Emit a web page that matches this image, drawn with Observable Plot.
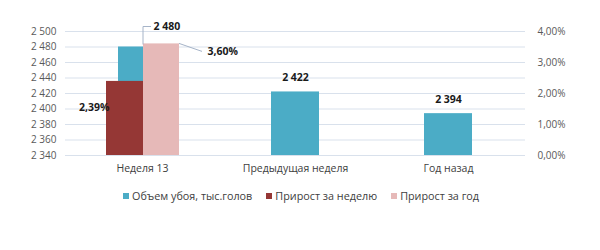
<!DOCTYPE html>
<html><head><meta charset="utf-8">
<script src="https://cdn.jsdelivr.net/npm/d3@7"></script>
<script src="https://cdn.jsdelivr.net/npm/@observablehq/plot@0.6"></script>
<style>
body{margin:0;background:#fff;font-family:"Open Sans",sans-serif;}
#chart{width:600px;height:250px;}
.legend{display:flex;justify-content:center;gap:14px;font-size:10.8px;color:#404040;margin-top:8px;margin-left:2px;}
.legend .sw{display:inline-block;width:6px;height:6px;margin-right:3px;vertical-align:1px;}
</style></head><body><div id="chart"></div>
<script>
const categories = ["Неделя 13", "Предыдущая неделя", "Год назад"];
const slaughter = [2480, 2422, 2394];      // тыс. голов (left axis)
const weekGrowth = [2.39, null, null];     // % (right axis)
const yearGrowth = [3.60, null, null];     // % (right axis)
const leftTicks = [2340, 2360, 2380, 2400, 2420, 2440, 2460, 2480, 2500];
const pctTicks = [0, 1, 2, 3, 4];
const seriesNames = ["Объем убоя, тыс.голов", "Прирост за неделю", "Прирост за год"];
const seriesColors = ["#4bacc6", "#953735", "#e6b9b8"];

const yMin = leftTicks[0], yMax = leftTicks[leftTicks.length - 1];
const k = (yMax - yMin) / pctTicks[pctTicks.length - 1];
const toY = p => yMin + p * k;

const loc = d3.formatLocale({decimal: ",", thousands: " ", grouping: [3], currency: ["", ""]});
const numFmt = loc.format(",d");
const pctFmt = p => loc.format(".2f")(p) + "%";

const table = categories.map((c, i) => ({cat: c, vol: slaughter[i], wk: weekGrowth[i], yr: yearGrowth[i]}));
const first = table.slice(0, 1);
const rest = table.slice(1);
const wkRows = table.filter(d => d.wk != null);
const yrRows = table.filter(d => d.yr != null);

const plot = Plot.plot({
  width: 600, height: 180,
  marginTop: 31, marginBottom: 25, marginLeft: 65, marginRight: 75,
  style: {fontFamily: "Open Sans", fontSize: "10px", color: "#595959", background: "#fff"},
  x: {domain: categories, paddingInner: 0.687, paddingOuter: 0.3435},
  y: {domain: [yMin, yMax]},
  marks: [
    Plot.gridY(leftTicks, {stroke: "#d9e1ec", strokeOpacity: 1}),
    Plot.axisY(leftTicks, {anchor: "left", tickSize: 0, tickPadding: 9, tickFormat: numFmt, label: null}),
    Plot.axisY(pctTicks.map(toY), {anchor: "right", tickSize: 0, tickPadding: 12, tickFormat: v => pctFmt((v - yMin) / k), label: null}),
    Plot.axisX({tickSize: 0, tickPadding: 9, label: null, fill: "#404040", fontSize: 10.5}),
    Plot.barY(table, {x: "cat", y1: yMin, y2: "vol", fill: seriesColors[0]}),
    Plot.barY(wkRows, {x: "cat", y1: yMin, y2: d => toY(d.wk), fill: seriesColors[1], insetLeft: -12, insetRight: 23}),
    Plot.barY(yrRows, {x: "cat", y1: yMin, y2: d => toY(d.yr), fill: seriesColors[2], insetLeft: 25, insetRight: -13}),
    Plot.text(first, {x: "cat", y: "vol", text: d => numFmt(d.vol), textAnchor: "start", dx: 11, dy: -20, fontWeight: "bold", fill: "#1a1a1a", fontSize: 10.5}),
    Plot.text(rest, {x: "cat", y: "vol", text: d => numFmt(d.vol), dy: -14, fontWeight: "bold", fill: "#1a1a1a", fontSize: 10.5}),
    Plot.text(wkRows, {x: "cat", y: d => toY(d.wk), text: d => pctFmt(d.wk), textAnchor: "end", dx: -33, dy: 26, fontWeight: "bold", fill: "#1a1a1a", fontSize: 10.5}),
    Plot.text(yrRows, {x: "cat", y: d => toY(d.yr), text: d => pctFmt(d.yr), textAnchor: "start", dx: 65, dy: 8, fontWeight: "bold", fill: "#1a1a1a", fontSize: 10.5})
  ]
});

// leader lines for the callout labels, placed through the plot's own scales
const X = plot.scale("x"), Y = plot.scale("y");
const bx = c => X.apply(c) + X.bandwidth / 2;
const svg = d3.select(plot);
const lead = svg.append("g").attr("fill", "none").attr("stroke", "#a6b4c8").attr("stroke-width", 1);
first.forEach(d => {
  const x0 = bx(d.cat) + 1, y0 = Y.apply(d.vol) - 2;
  lead.append("path").attr("d", `M${x0},${y0}V${Y.apply(d.vol) - 20}H${x0 + 8}`);
});
yrRows.forEach(d => {
  const x0 = bx(d.cat) + 37, y0 = Y.apply(toY(d.yr));
  lead.append("path").attr("d", `M${x0},${y0}L${x0 + 23},${y0 + 8}`);
});

const chart = document.getElementById("chart");
chart.appendChild(plot);
const legend = document.createElement("div");
legend.className = "legend";
seriesNames.forEach((n, i) => {
  const item = document.createElement("div");
  item.innerHTML = `<span class="sw" style="background:${seriesColors[i]}"></span>${n}`;
  legend.appendChild(item);
});
chart.appendChild(legend);
</script></body></html>
